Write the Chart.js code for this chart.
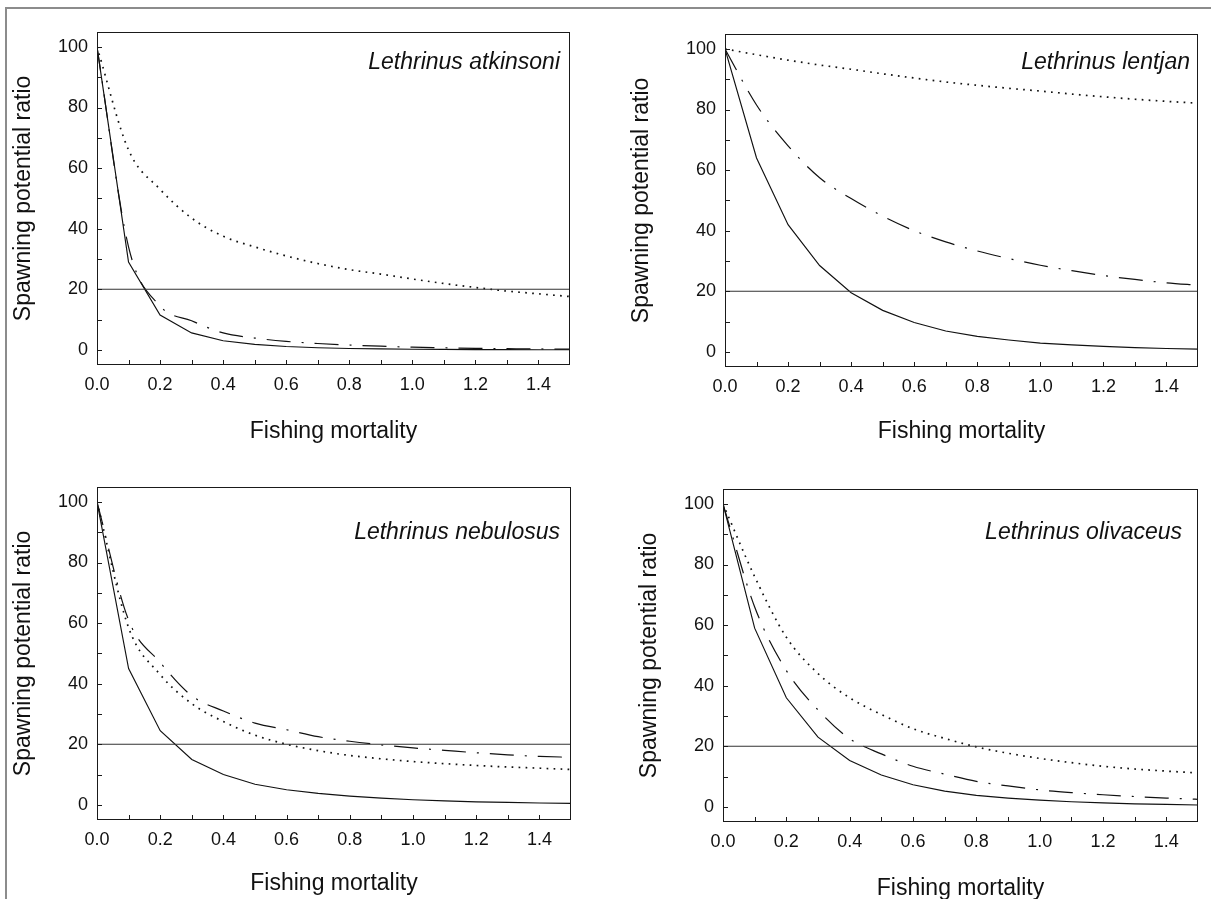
<!DOCTYPE html>
<html>
<head>
<meta charset="utf-8">
<script src="https://cdn.jsdelivr.net/npm/chart.js@4.4.1/dist/chart.umd.min.js"></script>
<style>
  html, body { margin: 0; padding: 0; background: #fff; overflow: hidden; }
  #sheet { position: relative; width: 1211px; height: 899px; overflow: hidden; }
  #edge {
    position: absolute; left: 5px; top: 7px; width: 1300px; height: 1000px;
    border-top: 2px solid #8c8c8c; border-left: 2px solid #8c8c8c;
  }
  canvas { position: absolute; }
</style>
</head>
<body>
<div id="sheet">
  <div id="edge"></div>
  <canvas id="atkinsoni"></canvas>
  <canvas id="lentjan"></canvas>
  <canvas id="nebulosus"></canvas>
  <canvas id="olivaceus"></canvas>
</div>
<script>
// fishing mortality grid (x) and axis ticks
const F = [0, 0.1, 0.2, 0.3, 0.4, 0.5, 0.6, 0.7, 0.8, 0.9, 1.0, 1.1, 1.2, 1.3, 1.4, 1.5];
const X_TICKS = [0, 0.2, 0.4, 0.6, 0.8, 1.0, 1.2, 1.4];
const X_MINOR = [0.1, 0.2, 0.3, 0.4, 0.5, 0.6, 0.7, 0.8, 0.9, 1.0, 1.1, 1.2, 1.3, 1.4];
const Y_TICKS = [0, 20, 40, 60, 80, 100];
const Y_MINOR = [0, 10, 20, 30, 40, 50, 60, 70, 80, 90, 100];
const SPR_TARGET = 20;

// spawning potential ratio (%) per species
const atkinsoniSolid   = [100, 29, 11.5, 5.6, 3, 1.8, 1.1, 0.7, 0.45, 0.3, 0.2, 0.14, 0.1, 0.07, 0.05, 0.04];
const atkinsoniDotted  = [100, 66, 53, 43.5, 37.5, 34, 31, 28.5, 26.5, 25, 23.4, 21.9, 20.6, 19.4, 18.5, 17.6];
const atkinsoniDashDot = [100, 34, 14.5, 9.6, 5.6, 3.9, 2.8, 2.1, 1.6, 1.2, 0.9, 0.7, 0.5, 0.4, 0.3, 0.25];

const lentjanSolid   = [100, 64, 42, 28.5, 19.5, 13.7, 9.7, 6.9, 5.1, 3.9, 2.9, 2.3, 1.8, 1.4, 1.1, 0.9];
const lentjanDotted  = [100, 98.1, 96.3, 94.7, 93.3, 91.8, 90.4, 89.1, 88, 87, 86.1, 85.1, 84.2, 83.4, 82.7, 82.1];
const lentjanDashDot = [100, 81.5, 68, 57.5, 50.6, 44.8, 40, 36.3, 33.3, 30.8, 28.6, 26.8, 25.2, 23.9, 22.8, 22];

const nebulosusSolid   = [100, 45, 24.5, 15, 10, 6.8, 5, 3.8, 2.9, 2.2, 1.7, 1.3, 1, 0.8, 0.6, 0.5];
const nebulosusDotted  = [100, 58.5, 43, 33.4, 27.5, 23, 20, 17.9, 16.3, 15.2, 14.3, 13.6, 13, 12.5, 12.1, 11.7];
const nebulosusDashDot = [100, 61, 47, 36, 31, 27, 24.8, 22.5, 21, 19.8, 18.8, 18, 17.2, 16.5, 16, 15.7];

const olivaceusSolid   = [100, 59, 36, 23, 15.3, 10.5, 7.3, 5.2, 3.8, 2.9, 2.2, 1.7, 1.3, 1, 0.8, 0.6];
const olivaceusDotted  = [100, 76, 56, 44, 36, 30.5, 25.8, 22.6, 19.8, 17.7, 16, 14.6, 13.4, 12.5, 11.8, 11.2];
const olivaceusDashDot = [100, 66, 45, 32, 22.5, 17.5, 13.4, 10.8, 8.4, 6.9, 5.6, 4.7, 4, 3.4, 2.9, 2.5];

const FONT = '"Liberation Sans", Arial, Helvetica, sans-serif';
const INK = '#111';

const LINE_STYLES = {
    solid:   { borderWidth: 1.15, borderDash: [], cubicInterpolationMode: 'default' },
    dotted:  { borderWidth: 1.7, borderDash: [1.7, 5.3], cubicInterpolationMode: 'monotone' },
    dashDot: { borderWidth: 1.2, borderDash: [24, 11, 2, 11], cubicInterpolationMode: 'monotone' },
};

function toPoints(ys) {
    return ys.map((y, i) => ({ x: F[i], y }));
}

function curve(ys, style) {
    return {
        data: toPoints(ys),
        borderColor: INK,
        pointRadius: 0,
        fill: false,
        ...LINE_STYLES[style],
    };
}

// box around the plot, inward ticks and the species name
const panelFrame = {
    id: 'panelFrame',
    afterDatasetsDraw(chart, args, opts) {
        const { ctx, chartArea: a, scales: { x, y } } = chart;
        ctx.save();
        ctx.strokeStyle = '#1a1a1a';
        ctx.lineWidth = 1;
        ctx.strokeRect(Math.round(a.left) + 0.5, Math.round(a.top) + 0.5,
            Math.round(a.right - a.left) - 1, Math.round(a.bottom - a.top) - 1);

        ctx.beginPath();
        X_MINOR.forEach(v => {
            const px = Math.round(x.getPixelForValue(v)) + 0.5;
            ctx.moveTo(px, a.bottom - 1);
            ctx.lineTo(px, a.bottom - 5);
        });
        Y_MINOR.forEach(v => {
            const py = Math.round(y.getPixelForValue(v)) + 0.5;
            ctx.moveTo(a.left + 1, py);
            ctx.lineTo(a.left + 5, py);
        });
        ctx.stroke();

        ctx.fillStyle = INK;
        ctx.font = 'italic 23px ' + FONT;
        ctx.textAlign = 'right';
        ctx.textBaseline = 'middle';
        ctx.fillText(opts.name, a.right - opts.dx, a.top + opts.dy);
        ctx.restore();
    },
};

function makePanel(id, p, solid, dotted, dashDot) {
    const canvas = document.getElementById(id);
    const left = p.yTitleX - 20;
    const top = p.area.t - 10;
    const right = p.area.r + 10;
    const bottom = p.xTitleY + 20;
    canvas.width = right - left;
    canvas.height = bottom - top;
    canvas.style.left = left + 'px';
    canvas.style.top = top + 'px';

    const target = {
        data: [{ x: F[0], y: SPR_TARGET }, { x: F[F.length - 1], y: SPR_TARGET }],
        borderColor: '#333',
        borderWidth: 1.2,
        pointRadius: 0,
        fill: false,
    };

    return new Chart(canvas, {
        type: 'line',
        data: {
            datasets: [
                target,
                curve(solid, 'solid'),
                curve(dotted, 'dotted'),
                curve(dashDot, 'dashDot'),
            ],
        },
        options: {
            responsive: false,
            animation: false,
            devicePixelRatio: 1,
            events: [],
            layout: { padding: { left: 0, top: 10, right: 10, bottom: 0 } },
            scales: {
                x: {
                    type: 'linear',
                    min: 0,
                    max: 1.5,
                    grid: { display: false, drawTicks: false },
                    border: { display: false },
                    afterBuildTicks: (s) => { s.ticks = X_TICKS.map(v => ({ value: v })); },
                    afterFit: (s) => { s.height = bottom - p.area.b; },
                    ticks: {
                        autoSkip: false,
                        maxRotation: 0,
                        padding: p.xLabelY - p.area.b - 10.8,
                        color: INK,
                        font: { family: FONT, size: 18 },
                        callback: (v) => Number(v).toFixed(1),
                    },
                    title: {
                        display: true,
                        text: 'Fishing mortality',
                        color: INK,
                        font: { family: FONT, size: 23 },
                        padding: { top: 0, bottom: 6.2 },
                    },
                },
                y: {
                    type: 'linear',
                    min: -5,
                    max: 105,
                    grid: { display: false, drawTicks: false },
                    border: { display: false },
                    afterBuildTicks: (s) => { s.ticks = Y_TICKS.map(v => ({ value: v })); },
                    afterFit: (s) => { s.width = p.area.l - left; },
                    ticks: {
                        padding: 9,
                        color: INK,
                        font: { family: FONT, size: 18 },
                    },
                    title: {
                        display: true,
                        text: 'Spawning potential ratio',
                        color: INK,
                        font: { family: FONT, size: 23 },
                        padding: { top: 6.2, bottom: 0 },
                    },
                },
            },
            plugins: {
                legend: { display: false },
                tooltip: { enabled: false },
                panelFrame: { name: p.name, dx: p.dx, dy: p.dy },
            },
        },
        plugins: [panelFrame],
    });
}

makePanel('atkinsoni', {
    name: 'Lethrinus atkinsoni', area: { l: 97, t: 22, r: 570, b: 365 },
    yTitleX: 24, xTitleY: 432, xLabelY: 385, dx: 10, dy: 31,
}, atkinsoniSolid, atkinsoniDotted, atkinsoniDashDot);

makePanel('lentjan', {
    name: 'Lethrinus lentjan', area: { l: 725, t: 24, r: 1198, b: 367 },
    yTitleX: 642, xTitleY: 432, xLabelY: 387, dx: 8, dy: 29,
}, lentjanSolid, lentjanDotted, lentjanDashDot);

makePanel('nebulosus', {
    name: 'Lethrinus nebulosus', area: { l: 97, t: 477, r: 571, b: 820 },
    yTitleX: 24, xTitleY: 884, xLabelY: 840, dx: 11, dy: 46,
}, nebulosusSolid, nebulosusDotted, nebulosusDashDot);

makePanel('olivaceus', {
    name: 'Lethrinus olivaceus', area: { l: 723, t: 479, r: 1198, b: 822 },
    yTitleX: 650, xTitleY: 889, xLabelY: 842, dx: 16, dy: 44,
}, olivaceusSolid, olivaceusDotted, olivaceusDashDot);
</script>
</body>
</html>
